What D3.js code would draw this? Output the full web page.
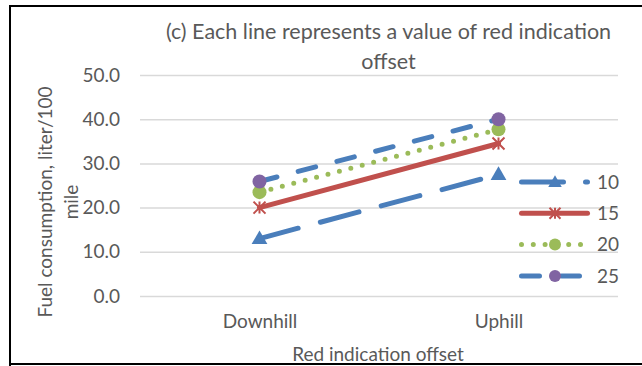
<!DOCTYPE html>
<html>
<head>
<meta charset="utf-8">
<script src="https://cdn.jsdelivr.net/npm/d3@7"></script>
<style>
  html, body { margin: 0; padding: 0; background: #fff; }
  svg { display: block; }
  text { font-family: Lato, "Open Sans", sans-serif; fill: #595959; }
</style>
</head>
<body>
<svg id="chart" width="642" height="366"></svg>
<script>
// Fuel consumption by grade, one line per red indication offset
const categories = ["Downhill", "Uphill"];
const seriesNames = ["10", "15", "20", "25"];
const values10 = [13.0, 27.5];
const values15 = [20.0, 34.5];
const values20 = [23.5, 37.7];
const values25 = [25.9, 40.0];
const yTicks = [0, 10, 20, 30, 40, 50];

const titleLines = ["(c) Each line represents a value of red indication", "offset"];
const yTitleLines = ["Fuel consumption, liter/100", "mile"];
const xTitle = "Red indication offset";

const seriesValues = [values10, values15, values20, values25];
const colors = ["#4a7ebb", "#c0504d", "#9bbb59", "#8064a2"];
const lineColors = ["#4a7ebb", "#c0504d", "#9bbb59", "#4a7ebb"];
const dashes = ["40 23", null, "0 11.8", "18 22"];
const markers = ["triangle", "star", "circle", "circle"];

const svg = d3.select("#chart");
const plot = { left: 140, right: 618, top: 75, bottom: 296 };

const x = d3.scalePoint().domain(categories).range([plot.left, plot.right]).padding(0.5);
const y = d3.scaleLinear().domain([0, 50]).range([plot.bottom, plot.top]);

// outer frame
svg.append("path")
  .attr("d", "M10,370 L10,6 L650,6 M10,364 L650,364")
  .attr("fill", "none").attr("stroke", "#000").attr("stroke-width", 2);

// value axis with gridlines
const yAxis = svg.append("g")
  .attr("transform", `translate(${plot.left},0)`)
  .call(d3.axisLeft(y).tickValues(yTicks).tickFormat(d3.format(".1f"))
    .tickSize(-(plot.right - plot.left)).tickPadding(20));
yAxis.select(".domain").remove();
yAxis.selectAll(".tick line").attr("stroke", "#d9d9d9").attr("stroke-width", 1.5);
yAxis.selectAll(".tick text").attr("font-size", 19).style("fill", "#595959");

// category axis
const xAxis = svg.append("g")
  .attr("transform", `translate(0,${plot.bottom})`)
  .call(d3.axisBottom(x).tickSize(0).tickPadding(19));
xAxis.select(".domain").remove();
xAxis.selectAll(".tick text").attr("font-size", 19).style("fill", "#595959");

// title
svg.append("text")
  .attr("text-anchor", "middle").attr("font-size", 21.5)
  .selectAll("tspan").data(titleLines).join("tspan")
  .attr("x", 388.5).attr("y", (d, i) => 39 + i * 30).text(d => d);

// axis titles
svg.append("text")
  .attr("text-anchor", "middle").attr("font-size", 19)
  .attr("x", 378).attr("y", 361).text(xTitle);

svg.append("text")
  .attr("text-anchor", "middle").attr("font-size", 19)
  .attr("transform", "translate(0,202) rotate(-90)")
  .selectAll("tspan").data(yTitleLines).join("tspan")
  .attr("x", 0).attr("y", (d, i) => 52 + i * 26).text(d => d);

function drawMarker(g, type, color, cx, cy, s) {
  if (type === "circle") {
    g.append("circle").attr("cx", cx).attr("cy", cy).attr("r", s / 2).attr("fill", color);
  } else if (type === "triangle") {
    g.append("path")
      .attr("d", d3.symbol(d3.symbolTriangle, s * s * 0.55)())
      .attr("transform", `translate(${cx},${cy + 1})`)
      .attr("fill", color);
  } else if (type === "star") {
    const r = s / 2;
    const d = `M${cx - r},${cy - r}L${cx + r},${cy + r}M${cx - r},${cy + r}L${cx + r},${cy - r}M${cx},${cy - r}L${cx},${cy + r}`;
    g.append("path").attr("d", d).attr("stroke", color).attr("stroke-width", 2).attr("fill", "none");
  }
}

const line = d3.line().x((d, i) => x(categories[i])).y(d => y(d));

seriesValues.forEach((vals, k) => {
  const g = svg.append("g");
  const p = g.append("path")
    .attr("d", line(vals))
    .attr("fill", "none")
    .attr("stroke", lineColors[k])
    .attr("stroke-width", 5)
    .attr("stroke-linecap", "round");
  if (dashes[k]) p.attr("stroke-dasharray", dashes[k]);
  vals.forEach((v, i) => {
    drawMarker(g, markers[k], colors[k], x(categories[i]), y(v), markers[k] === "star" ? 12 : 14);
  });
});

// legend keys reuse each series' stroke pattern
const legend = svg.append("g");
seriesNames.forEach((name, k) => {
  const cy = 182 + k * 31.3;
  const row = legend.append("g");
  const p = row.append("line")
    .attr("x1", 521.5).attr("x2", 587.5).attr("y1", cy).attr("y2", cy)
    .attr("stroke", lineColors[k]).attr("stroke-width", 5)
    .attr("stroke-linecap", "round");
  if (dashes[k]) p.attr("stroke-dasharray", k === 0 ? "42 22" : dashes[k]);
  drawMarker(row, markers[k], colors[k], 555, cy, markers[k] === "star" ? 11 : 12);
  row.append("text")
    .attr("x", 597).attr("y", cy).attr("dy", "0.35em")
    .attr("font-size", 19).text(name);
});
</script>
</body>
</html>
